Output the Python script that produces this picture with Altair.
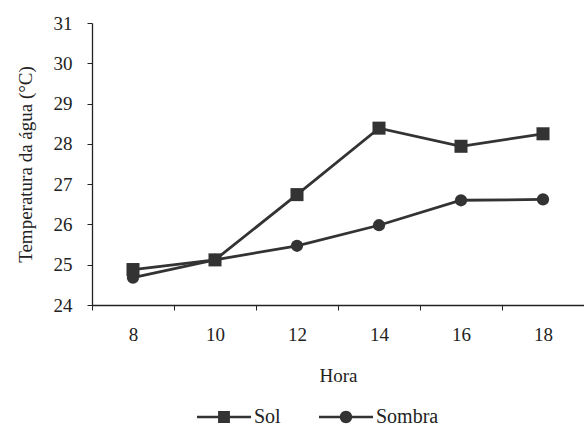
import altair as alt
import pandas as pd

hora = [8, 10, 12, 14, 16, 18]
sol = [24.88, 25.12, 26.74, 28.39, 27.94, 28.25]
sombra = [24.68, 25.12, 25.47, 25.98, 26.6, 26.62]
series = ["Sol", "Sombra"]

rows = []
for h, a, b in zip(hora, sol, sombra):
    rows.append({"Hora": h, "Temp": a, "Serie": "Sol"})
    rows.append({"Hora": h, "Temp": b, "Serie": "Sombra"})
df = pd.DataFrame(rows)

FONT = "Liberation Serif"
INK = "#333333"

x_enc = alt.X(
    "Hora:O",
    bandPosition=0.5,
    scale=alt.Scale(type="band", paddingInner=0, paddingOuter=0),
    axis=alt.Axis(
        title="Hora",
        tickBand="extent",
        labelAngle=0,
        tickSize=5,
        labelPadding=15,
        titlePadding=22,
        grid=False,
    ),
)
y_enc = alt.Y(
    "Temp:Q",
    scale=alt.Scale(domain=[24, 31], nice=False, zero=False),
    axis=alt.Axis(
        title="Temperatura da água (°C)",
        values=[24, 25, 26, 27, 28, 29, 30, 31],
        tickSize=5,
        labelPadding=15,
        titlePadding=18,
        grid=False,
    ),
)

base = alt.Chart(df)

lines = base.mark_line(color=INK, strokeWidth=2.8).encode(
    x=x_enc, y=y_enc, detail="Serie:N"
)

points = base.mark_point(filled=True, color=INK, opacity=1).encode(
    x=x_enc,
    y=y_enc,
    shape=alt.Shape(
        "Serie:N",
        scale=alt.Scale(domain=series, range=["square", "circle"]),
        legend=None,
    ),
    size=alt.Size(
        "Serie:N",
        scale=alt.Scale(domain=series, range=[170, 150]),
        legend=None,
    ),
)

seg = "M-1,-0.045H-0.2V0.045H-1ZM0.2,-0.045H1V0.045H0.2Z"
sol_path = seg + "M-0.22,-0.22H0.22V0.22H-0.22Z"
sombra_path = seg + "M-0.23,0A0.23,0.23,0,0,1,0.23,0A0.23,0.23,0,0,1,-0.23,0Z"

legend_layer = base.mark_point(filled=True, color=INK, opacity=0).encode(
    x=x_enc,
    y=y_enc,
    shape=alt.Shape(
        "Serie:N",
        scale=alt.Scale(domain=series, range=[sol_path, sombra_path]),
        legend=alt.Legend(
            title=None,
            orient="none",
            direction="horizontal",
            legendX=105,
            legendY=367,
            symbolSize=2916,
            symbolOpacity=1,
            symbolFillColor=INK,
            symbolStrokeWidth=0,
            labelFont="Liberation Serif, Times New Roman, serif",
            labelFontSize=20,
            labelColor="#222222",
            labelOffset=3,
            columnPadding=38,
        ),
    ),
)

chart = (
    alt.layer(lines, points, legend_layer)
    .resolve_scale(shape="independent", size="independent")
    .properties(
        width=492,
        height=282,
        autosize=alt.AutoSizeParams(type="none"),
        padding={"left": 92, "top": 23, "right": 0, "bottom": 125},
        background="white",
    )
    .configure(font=FONT, style={"guide-label": {"font": FONT}})
    .configure_view(stroke=None)
    .configure_axis(
        labelFont=FONT,
        titleFont=FONT,
        labelFontSize=19,
        titleFontSize=19,
        titleFontWeight="normal",
        labelColor="#222222",
        titleColor="#222222",
        domainColor="#222222",
        tickColor="#222222",
        domainWidth=1.3,
        tickWidth=1,
    )
)

chart.save("out.html", embed_options={"renderer": "svg", "actions": False})
